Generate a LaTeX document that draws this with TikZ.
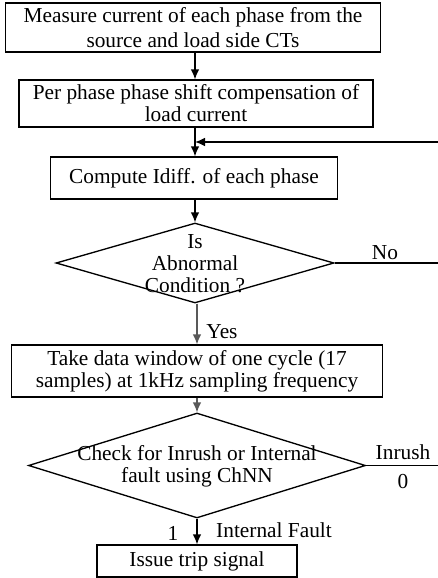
\documentclass[tikz,border=0pt]{standalone}
\usepackage{fontspec}
\setmainfont{Liberation Serif}
\usetikzlibrary{arrows.meta,shapes.geometric}
\begin{document}
\begin{tikzpicture}[x=0.75pt,y=-0.75pt,
  txt/.style={font=\fontsize{16}{16.5}\selectfont, align=center, inner sep=0pt},
  box/.style={draw, line width=1pt, rectangle, txt},
  dia/.style={draw, line width=1pt, diamond, inner sep=0pt},
  arr/.style={line width=1pt, -{Latex[length=7.5pt,width=6.5pt]}},
  garr/.style={arr, draw=black!65, fill=black!65},
  ln/.style={line width=1pt}]
\useasboundingbox (0,0) rectangle (438,578);
\node[box, minimum width=281.25pt, minimum height=36.75pt] (b1) at (193,27.5) {Measure current of each phase from the\\[2pt] source and load side CTs};
\node[box, minimum width=265.5pt, minimum height=35.25pt] (b2) at (196,103.5) {Per phase phase shift compensation of\\ load current};
\node[box, minimum width=215.25pt, minimum height=31.5pt] (b3) at (194,178) {Compute Idiff. of each phase};
\node[dia, minimum width=208.5pt, minimum height=60pt] (d1) at (195,263) {};
\node[txt] (d1t) at (195,264) {Is\\ Abnormal\\ Condition ?};
\node[box, minimum width=278.25pt, minimum height=39pt] (b4) at (197,371) {Take data window of one cycle (17\\ samples) at 1kHz sampling frequency};
\node[dia, minimum width=252.75pt, minimum height=78.75pt] (d2) at (197,465.5) {};
\node[txt] (d2t) at (197,466) {Check for Inrush or Internal\\ fault using ChNN};
\node[box, minimum width=150pt, minimum height=24pt] (b5) at (197,561) {Issue trip signal};
\coordinate (fbR) at (438,142);
\coordinate (fbE) at (195,142);
\coordinate (noR) at (438,263);
\coordinate (inR) at (438,465.5);
\coordinate (ax) at (195,0);
\coordinate (bx) at (197,0);
\draw[arr] (b1.south -| ax) -- (b2.north -| ax);
\draw[arr] (b2.south -| ax) -- (b3.north -| ax);
\draw[arr] (fbR) -- (fbE);
\draw[arr] (b3.south -| ax) -- (d1.north);
\draw[garr] (d1.south -| bx) -- (b4.north -| bx);
\draw[garr] (b4.south -| bx) -- (d2.north);
\draw[arr] (d2.south) -- (b5.north);
\draw[ln] (d1.east) -- (noR);
\draw[ln] (d2.east) -- (inR);
\node[txt] (no) at (385,253) {No};
\node[txt] (yes) at (222,332) {Yes};
\node[txt] (inr) at (403,452) {Inrush};
\node[txt] (zero) at (403,482) {0};
\node[txt] (one) at (173,533) {1};
\node[txt] (intf) at (274,530) {Internal Fault};
\end{tikzpicture}
\end{document}
